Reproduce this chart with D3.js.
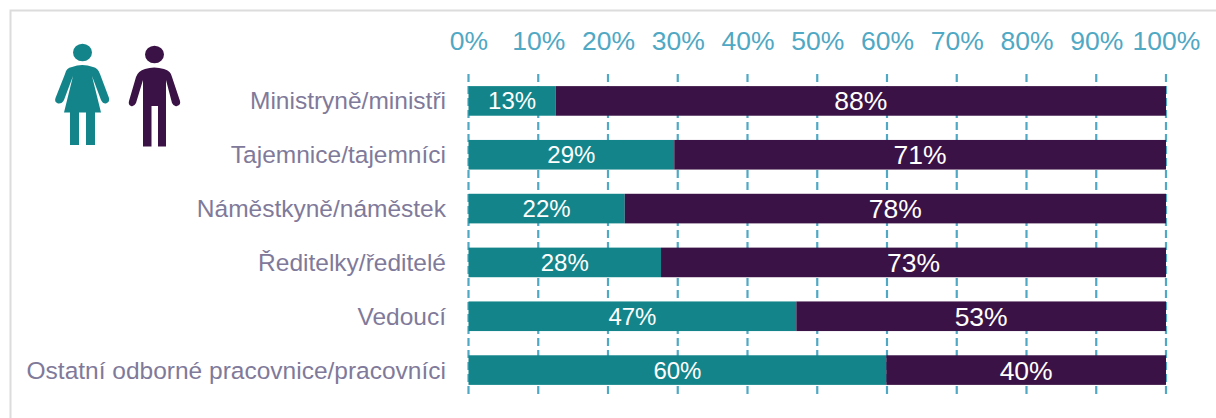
<!DOCTYPE html>
<html><head><meta charset="utf-8">
<script src="https://cdn.jsdelivr.net/npm/d3@7"></script>
<style>html,body{margin:0;padding:0;background:#fff}svg{display:block}text{font-family:"Liberation Sans",Arial,sans-serif}</style>
</head><body><svg id="c" width="1216" height="418"></svg>
<script>
const categories=["Ministryně/ministři","Tajemnice/tajemníci","Náměstkyně/náměstek","Ředitelky/ředitelé","Vedoucí","Ostatní odborné pracovnice/pracovníci"];
const women=[12.5,29.5,22.4,27.6,47,59.9];
const men=[87.5,70.5,77.6,72.4,53,40.1];
const womenLabels=["13%","29%","22%","28%","47%","60%"];
const menLabels=["88%","71%","78%","73%","53%","40%"];
const ticks=[0,10,20,30,40,50,60,70,80,90,100];
const teal="#13858a",purple="#3b1245",blue="#4fa8c4",grey="#7f7a9a";

const svg=d3.select("#c");
svg.append("path").attr("d","M10.5,418V10.5H1216").attr("fill","none").attr("stroke","#dcdcdc").attr("stroke-width",2);

const x=d3.scaleLinear().domain([0,100]).range([468.5,1166]);
const y=d3.scaleBand().domain(categories).range([74,397]).paddingInner(0.45).paddingOuter(0.225);

const axis=svg.append("g").attr("transform","translate(0,74)")
  .call(d3.axisTop(x).tickValues(ticks).tickFormat(d=>d+"%").tickSize(0).tickPadding(24));
axis.select(".domain").remove();
axis.selectAll("text").attr("fill",blue).attr("font-size",26.5).attr("font-family",null);

svg.append("g").selectAll("line").data(ticks).join("line")
  .attr("x1",d=>x(d)).attr("x2",d=>x(d)).attr("y1",74).attr("y2",397)
  .attr("stroke",blue).attr("stroke-width",2.2).attr("stroke-dasharray","8,4");

const rows=svg.append("g").selectAll("g").data(categories).join("g");
rows.append("rect").attr("x",x(0)).attr("y",d=>y(d)).attr("height",y.bandwidth())
  .attr("width",(d,i)=>x(women[i])-x(0)).attr("fill",teal);
rows.append("rect").attr("x",(d,i)=>x(women[i])).attr("y",d=>y(d)).attr("height",y.bandwidth())
  .attr("width",(d,i)=>x(women[i]+men[i])-x(women[i])).attr("fill",purple);
rows.append("text").attr("x",(d,i)=>(x(0)+x(women[i]))/2).attr("y",d=>y(d)+y.bandwidth()/2+8.5)
  .attr("text-anchor","middle").attr("fill","#fff").attr("font-size",24).text((d,i)=>womenLabels[i]);
rows.append("text").attr("x",(d,i)=>(x(women[i])+x(100))/2).attr("y",d=>y(d)+y.bandwidth()/2+9.5)
  .attr("text-anchor","middle").attr("fill","#fff").attr("font-size",26.5).text((d,i)=>menLabels[i]);
rows.append("text").attr("x",446).attr("y",d=>y(d)+y.bandwidth()/2+8.5)
  .attr("text-anchor","end").attr("fill",grey).attr("font-size",24.5).text(d=>d);

// pictograms
const ic=svg.append("g");
ic.append("ellipse").attr("cx",82.5).attr("cy",52.5).attr("rx",9.5).attr("ry",8.8).attr("fill",teal);
ic.append("path").attr("fill",teal).attr("d","M72,67Q82,63 93,67Q98,68 100,74L109,98Q110,102 106,103.5Q103,104 101,100L92,76L101,112.5H95V145H86V112.5H79V145H70V112.5H64L73,76L64,100Q62,104 58,103.5Q54,102 55.5,98L65,74Q66,68 72,67Z");
ic.append("ellipse").attr("cx",154.5).attr("cy",54.5).attr("rx",9.5).attr("ry",8.8).attr("fill",purple);
ic.append("path").attr("fill",purple).attr("d","M145,69Q154,66 164,69Q171,71 172,77L180,101Q181,105 177,106Q174,107 172,103L166,80V146.5H158V106H151.5V146.5H143V80L136,103Q134,107 131,106Q128,105 129,101L136,77Q138,71 145,69Z");
</script></body></html>
